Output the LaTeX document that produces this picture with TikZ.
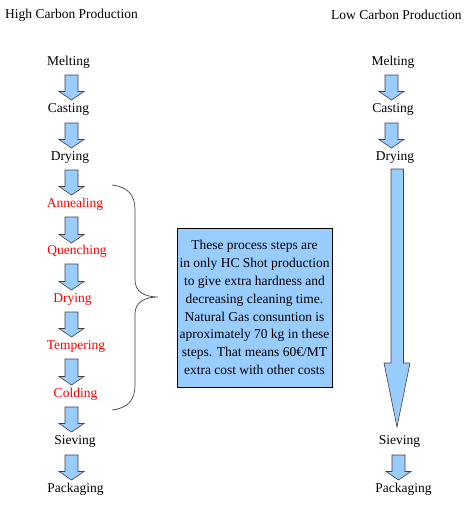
\documentclass[tikz,border=0pt]{standalone}
\usepackage{fontspec}
\setmainfont{Liberation Serif}
\definecolor{lblue}{HTML}{99CCFF}
\definecolor{bracegray}{HTML}{404040}
\newcommand\blkarrow[3]{\draw[blockarr] (#1-6.5,#2) -- (#1+6.5,#2) -- (#1+6.5,#3-8.5) -- (#1+12.5,#3-8.5) -- (#1,#3) -- (#1-12.5,#3-8.5) -- (#1-6.5,#3-8.5) -- cycle;}
\begin{document}
\begin{tikzpicture}[x=1pt,y=-1pt,
  lbl/.style={inner sep=0pt, font=\fontsize{13.5}{16}\selectfont},
  redlbl/.style={lbl, text=red},
  blockarr/.style={fill=lblue, draw=black!75, line width=0.6pt, line join=miter},
  infobox/.style={draw=black, line width=0.8pt, fill=lblue, minimum width=155pt, minimum height=159pt, align=center, inner sep=2pt, font=\fontsize{13.5}{17.9}\selectfont}]
\useasboundingbox (0,0) rectangle (471,506);
% headers
\node[lbl, anchor=west] (hch) at (5,15) {High Carbon Production};
\node[lbl, anchor=west] (lch) at (331,15) {Low Carbon Production};
% left column
\node[lbl] (lm) at (68.5,62) {Melting};
\node[lbl] (lc) at (68.5,109.5) {Casting};
\node[lbl] (ld) at (70,157) {Drying};
\node[redlbl] (la) at (75,204) {Annealing};
\node[redlbl] (lq) at (77,251.5) {Quenching};
\node[redlbl] (ld2) at (72.5,299) {Drying};
\node[redlbl] (lt) at (76,346.5) {Tempering};
\node[redlbl] (lcd) at (75.5,394) {Colding};
\node[lbl] (ls) at (75,441.5) {Sieving};
\node[lbl] (lp) at (75.5,489) {Packaging};
\blkarrow{71.5}{75}{100}
\blkarrow{71.5}{123}{148}
\blkarrow{71.5}{170}{195}
\blkarrow{71.5}{217}{243}
\blkarrow{71.5}{264}{290}
\blkarrow{71.5}{312}{337}
\blkarrow{71.5}{359}{385}
\blkarrow{71.5}{407}{432}
\blkarrow{71.5}{455}{480}
% right column
\node[lbl] (rm) at (393,62) {Melting};
\node[lbl] (rc) at (393,109.5) {Casting};
\node[lbl] (rd) at (395,157) {Drying};
\node[lbl] (rs) at (399.5,441.5) {Sieving};
\node[lbl] (rp) at (403.5,489) {Packaging};
\blkarrow{391.5}{75}{100}
\blkarrow{391.5}{123}{148}
\blkarrow{398.5}{455}{480}
\draw[blockarr] (391,169) -- (403.5,169) -- (403.5,363) -- (410,363) -- (397,427) -- (384,363) -- (391,363) -- cycle;
% brace
\draw[bracegray, line width=0.7pt] (112,185) .. controls (128,187) and (135,195) .. (135,210)
  -- (135,280) .. controls (135,292) and (145,297) .. (158,297)
  .. controls (145,297) and (135,302) .. (135,314)
  -- (135,385) .. controls (135,400) and (128,408) .. (112,410);
% info box
\node[infobox] (info) at (254.5,307.5) {These process steps are\\in only HC Shot production\\to give extra hardness and\\decreasing cleaning time.\\Natural Gas consuntion is\\aproximately 70 kg in these\\steps. That means 60€/MT\\extra cost with other costs};
\end{tikzpicture}
\end{document}
